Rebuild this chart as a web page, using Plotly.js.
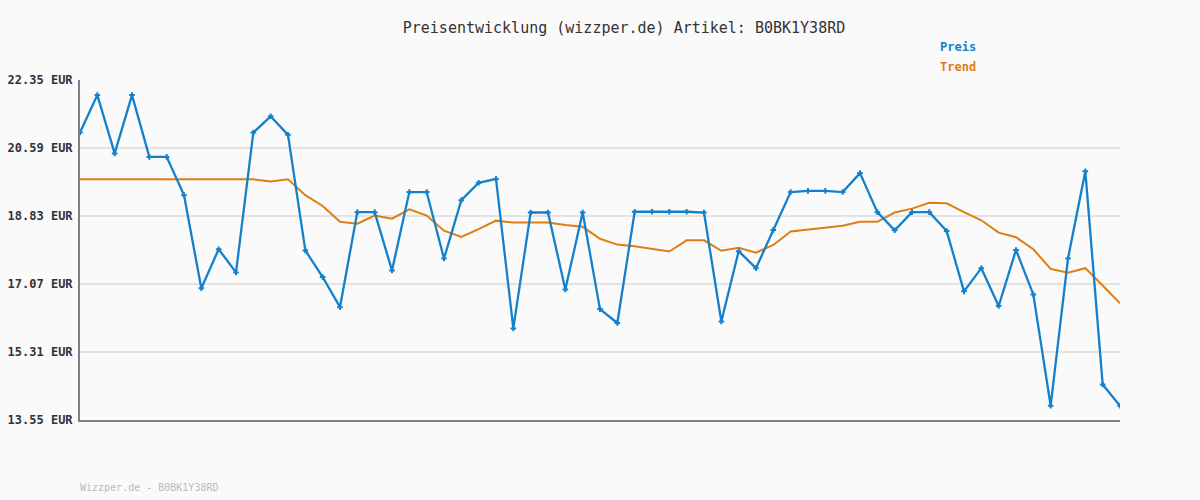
<!DOCTYPE html>
<html>
<head>
<meta charset="utf-8">
<script src="https://cdn.plot.ly/plotly-3.0.1.min.js"></script>
<style>html,body{margin:0;padding:0;background:#fafafa;}#chart{width:1200px;height:500px;}</style>
</head>
<body>
<div id="chart"></div>
<script>
const preis = [20.99, 21.96, 20.45, 21.96, 20.36, 20.36, 19.37, 16.96, 17.97, 17.37,
  20.99, 21.41, 20.93, 17.94, 17.25, 16.47, 18.93, 18.93, 17.42, 19.45,
  19.45, 17.73, 19.24, 19.69, 19.79, 15.92, 18.92, 18.92, 16.93, 18.92,
  16.42, 16.06, 18.94, 18.94, 18.94, 18.94, 18.92, 16.10, 17.92, 17.48,
  18.47, 19.45, 19.48, 19.48, 19.45, 19.94, 18.93, 18.46, 18.93, 18.93,
  18.44, 16.88, 17.48, 16.50, 17.95, 16.80, 13.92, 17.73, 19.99, 14.47, 13.92];
const trend = [19.78, 19.78, 19.78, 19.78, 19.78, 19.78, 19.78, 19.78, 19.78, 19.78,
  19.78, 19.72, 19.78, 19.37, 19.09, 18.68, 18.63, 18.84, 18.76, 19.00,
  18.84, 18.45, 18.29, 18.49, 18.71, 18.66, 18.66, 18.66, 18.60, 18.55,
  18.24, 18.09, 18.05, 17.98, 17.91, 18.20, 18.20, 17.93, 18.01, 17.88,
  18.08, 18.43, 18.48, 18.53, 18.58, 18.68, 18.68, 18.92, 19.02, 19.17,
  19.16, 18.93, 18.72, 18.40, 18.28, 17.97, 17.46, 17.36, 17.48, 17.03, 16.57];
const yTicks = [13.55, 15.31, 17.07, 18.83, 20.59, 22.35];
const yTickText = yTicks.map(v => v.toFixed(2) + ' EUR');
const idx = preis.map((_, i) => i);

const mono = '"DejaVu Sans Mono", "Liberation Mono", monospace';
const blue = '#1380cc';
const orange = '#e07d10';

const traces = [
  {x: idx, y: trend, type: 'scatter', mode: 'lines', name: 'Trend',
   line: {color: orange, width: 2}, hoverinfo: 'skip'},
  {x: idx, y: preis, type: 'scatter', mode: 'lines+markers', name: 'Preis',
   line: {color: blue, width: 2.3},
   marker: {symbol: 'cross-thin', size: 4, color: blue, line: {color: blue, width: 2}}}
];

const layout = {
  width: 1200, height: 500,
  paper_bgcolor: '#fafafa', plot_bgcolor: '#fafafa',
  showlegend: false,
  margin: {l: 80, r: 80, t: 80, b: 80},
  title: {text: 'Preisentwicklung (wizzper.de) Artikel: B0BK1Y38RD',
          font: {family: mono, size: 15, color: '#333333'},
          xref: 'container', yref: 'container', x: 0.52, xanchor: 'center', y: 0.944, yanchor: 'middle'},
  xaxis: {range: [0, 60], showticklabels: false, showgrid: false, zeroline: false,
          showline: true, linecolor: '#808080', linewidth: 2, ticks: ''},
  yaxis: {range: [13.55, 22.35], tickvals: yTicks, ticktext: yTickText,
          showgrid: true, gridcolor: '#e3e3e3', gridwidth: 2, zeroline: false,
          showline: true, linecolor: '#808080', linewidth: 2, ticks: '',
          ticklabelstandoff: 3,
          tickfont: {family: mono, size: 12, color: '#333333', weight: 'bold'}},
  annotations: [
    {text: '<b>Preis</b>', xref: 'paper', yref: 'paper', x: (978 - 80) / 1040, y: 1 + (80 - 47) / 340,
     xanchor: 'right', yanchor: 'middle', showarrow: false, font: {family: mono, size: 12, color: blue}},
    {text: '<b>Trend</b>', xref: 'paper', yref: 'paper', x: (978 - 80) / 1040, y: 1 + (80 - 67) / 340,
     xanchor: 'right', yanchor: 'middle', showarrow: false, font: {family: mono, size: 12, color: orange}},
    {text: 'Wizzper.de - B0BK1Y38RD', xref: 'paper', yref: 'paper', x: -2 / 1040, y: -(487 - 420) / 340,
     xanchor: 'left', yanchor: 'middle', showarrow: false, font: {family: mono, size: 10, color: '#bbbbbb'}}
  ]
};

Plotly.newPlot('chart', traces, layout, {displayModeBar: false, staticPlot: true});
</script>
</body>
</html>
